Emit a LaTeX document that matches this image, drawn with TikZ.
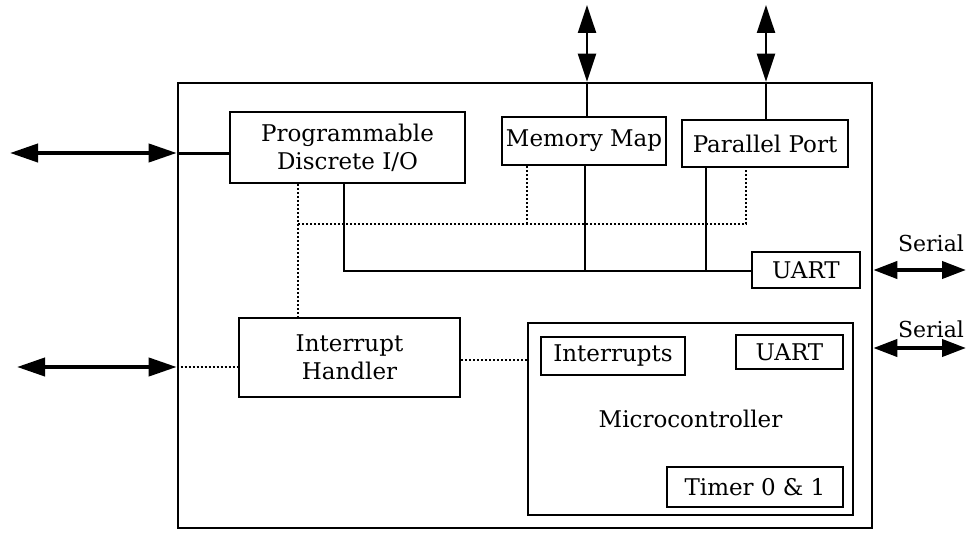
\documentclass[tikz,border=0pt]{standalone}
\usepackage{fontspec}
\setmainfont{DejaVu Serif}
\usetikzlibrary{arrows.meta}
\begin{document}
\begin{tikzpicture}[x=1pt,y=-1pt,
  box/.style={draw,line width=2.6pt,inner sep=0pt,align=center,font=\fontsize{23}{28}\selectfont},
  conn/.style={line width=2.2pt},
  dots/.style={line width=2.2pt,dash pattern=on 2pt off 2pt},
  bidir/.style={line width=4pt,{Triangle[length=28pt,width=18pt]}-{Triangle[length=28pt,width=18pt]}},
  lbl/.style={font=\fontsize{22}{26}\selectfont,inner sep=0pt}]
\useasboundingbox (0,0) rectangle (969,535);
% outer box
\node[draw,line width=2.6pt,minimum width=694pt,minimum height=445pt,inner sep=0pt] (outer) at (525,305.5) {};
% boxes
\node[box,minimum width=235pt,minimum height=71pt] (PDIO) at (347.5,147.5) {Programmable\\Discrete I/O};
\node[box,minimum width=164pt,minimum height=48pt] (MM) at (584,141) {Memory Map};
\node[box,minimum width=166pt,minimum height=47pt] (PP) at (765,143.5) {Parallel Port};
\node[box,minimum width=108pt,minimum height=36pt] (UART1) at (806,270) {UART};
\node[box,minimum width=221pt,minimum height=79pt] (IH) at (349.5,357.5) {Interrupt\\Handler};
\node[box,minimum width=325pt,minimum height=192pt] (MC) at (690.5,419) {Microcontroller};
\node[box,minimum width=144pt,minimum height=38pt] (INT) at (613,356) {Interrupts};
\node[box,minimum width=107pt,minimum height=34pt] (UART2) at (789.5,352) {UART};
\node[box,minimum width=176pt,minimum height=40pt] (TIM) at (755,487) {Timer 0 \& 1};
% free ends
\coordinate (L1) at (10,153);
\coordinate (L2) at (17,367);
\coordinate (T1) at (587,5);
\coordinate (T2) at (766,5);
\coordinate (R1) at (966,270);
\coordinate (R2) at (966,348);
\coordinate (o1) at (outer.west |- L1);
\coordinate (o2) at (outer.west |- L2);
\coordinate (ot1) at (outer.north -| T1);
\coordinate (ot2) at (outer.north -| T2);
\coordinate (or1) at (outer.east |- R1);
\coordinate (or2) at (outer.east |- R2);
% external arrows
\draw[bidir] (L1) -- (o1);
\draw[conn,line width=3pt] (o1) -- (o1 -| PDIO.west);
\draw[bidir] (L2) -- (o2);
\draw[dots] (o2) -- (o2 -| IH.west);
\draw[bidir,line width=2.4pt] (T1) -- (ot1);
\draw[conn] (ot1) -- (ot1 |- MM.north);
\draw[bidir,line width=2.4pt] (T2) -- (ot2);
\draw[conn] (ot2) -- (ot2 |- PP.north);
\draw[bidir,{Triangle[length=24pt,width=17pt]}-{Triangle[length=24pt,width=17pt]}] (or1) -- (R1);
\draw[bidir,{Triangle[length=24pt,width=17pt]}-{Triangle[length=24pt,width=17pt]}] (or2) -- (R2);
\node[lbl] (S1) at (931,243) {Serial};
\node[lbl] (S2) at (931,329) {Serial};
% dotted internal bus
\coordinate (d1) at (298,224);
\coordinate (d2) at (527,224);
\coordinate (d3) at (746,224);
\draw[dots] (d1 |- PDIO.south) -- (d1 |- IH.north);
\draw[dots] (d1) -- (d3) -- (d3 |- PP.south);
\draw[dots] (d2) -- (d2 |- MM.south);
% solid internal bus
\coordinate (b1) at (344,271);
\coordinate (b2) at (585,271);
\coordinate (b3) at (706,271);
\draw[conn] (b1 |- PDIO.south) -- (b1) -- (b1 -| UART1.west);
\draw[conn] (b2) -- (b2 |- MM.south);
\draw[conn] (b3) -- (b3 |- PP.south);
% interrupt link
\coordinate (i1) at (IH.east |- 0,360);
\draw[dots] (i1) -- (i1 -| MC.west);
\end{tikzpicture}
\end{document}
